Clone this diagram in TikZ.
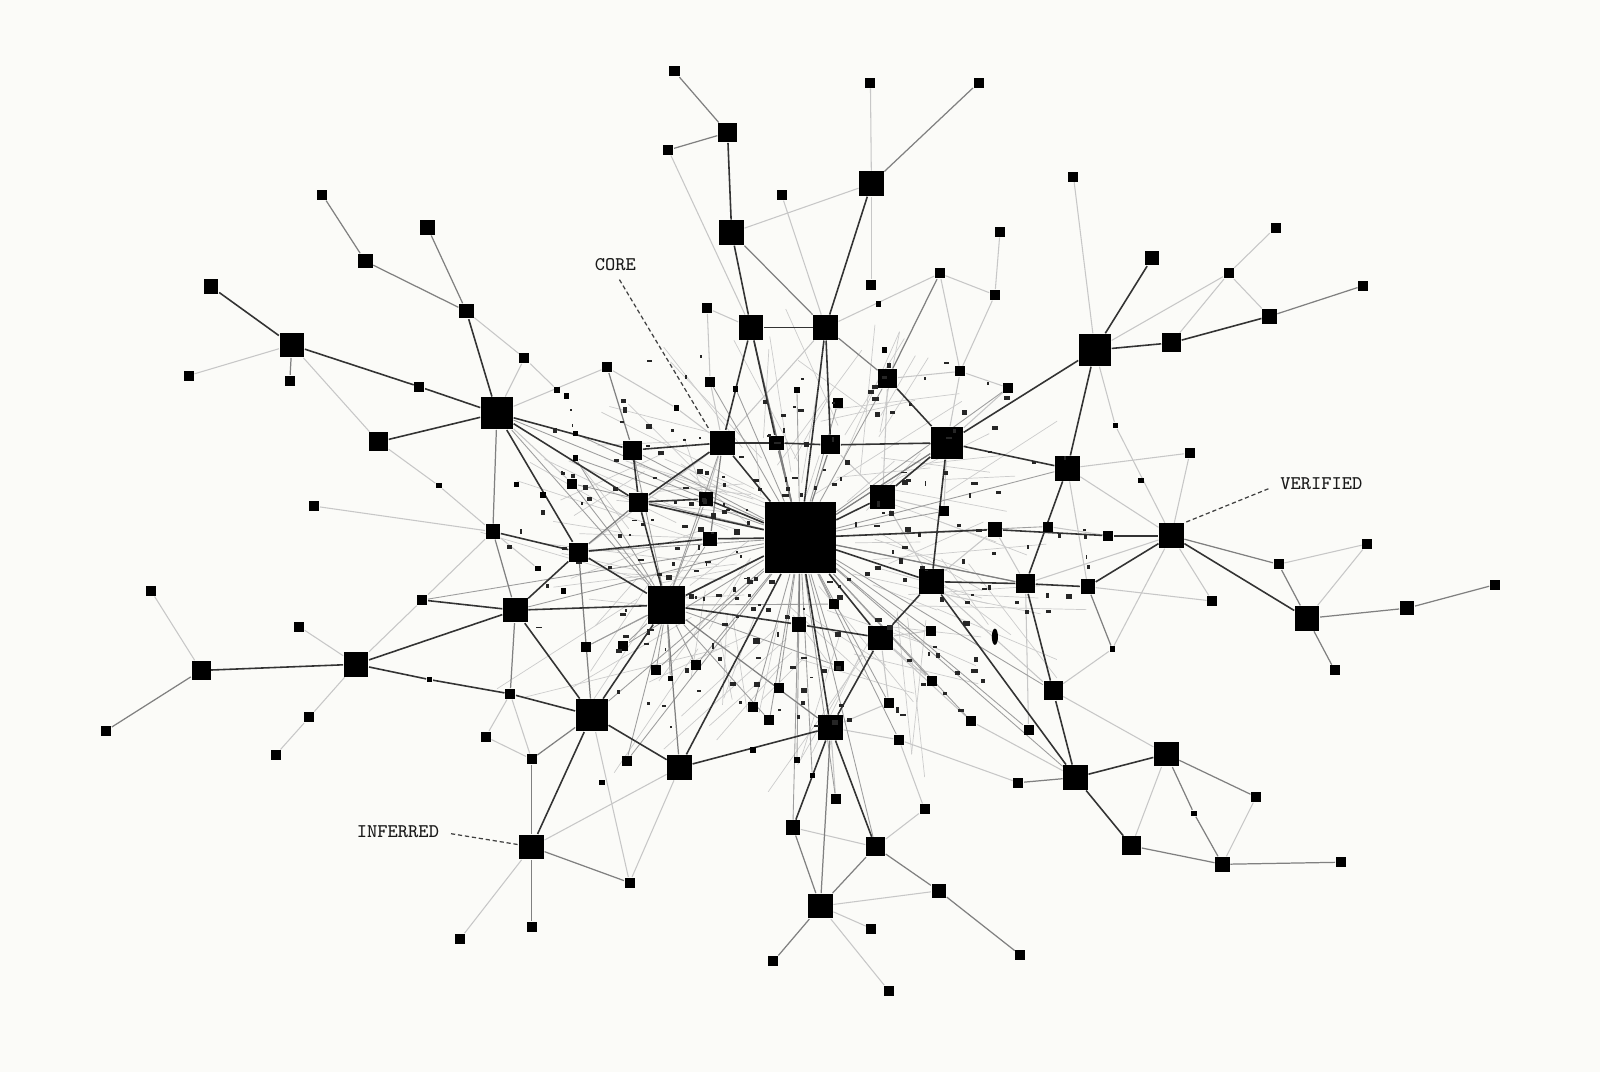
\documentclass[tikz,border=0pt]{standalone}
\usepackage{fontspec}
\usepackage{tikz}
\pgfdeclarelayer{paper}
\pgfdeclarelayer{edges}
\pgfsetlayers{paper,edges,main}
\definecolor{paperwhite}{RGB}{251,251,248}
\tikzset{
  sqbase/.style={rectangle, fill=black, inner sep=0pt},
  dotsq/.style={sqbase, minimum size=0.55mm},
  sq/.style={sqbase, minimum size=1.0mm},
  msq/.style={sqbase, minimum size=1.45mm},
  mdsq/.style={sqbase, minimum size=1.9mm},
  bsq/.style={sqbase, minimum size=2.45mm},
  lsq/.style={sqbase, minimum size=3.2mm},
  hubsq/.style={sqbase, minimum size=7.1mm},
  strong/.style={line width=0.45pt, black!80},
  mid/.style={line width=0.35pt, black!50},
  weak/.style={line width=0.3pt, black!22},
  spoke/.style={line width=0.25pt, black!38},
  web/.style={line width=0.2pt, black!20},
  lbl/.style={font=\fontsize{5.5}{6}\selectfont\ttfamily, text=black!90, inner sep=1pt},
  leader/.style={line width=0.35pt, black!75, dash pattern=on 1.2pt off 0.8pt}
}

\begin{document}
\begin{tikzpicture}[x=0.10204mm, y=-0.10204mm]
        % 纸面背景
        \begin{pgfonlayer}{paper}
        \fill[paperwhite] (0,0) rectangle (1568,1051);
        \end{pgfonlayer}

        % 中心节点
        \node[hubsq] (hub) at (784,527) {};

        % 大方块
        \foreach \n/\x/\y in {n26/1073/343, n34/928/434, n41/487/405, n96/580/701}
          \node[lsq] (\n) at (\x,\y) {};
        \node[lsq, minimum size=3.75mm] (n60) at (653,593) {};

        % 中等方块
        \foreach \n/\x/\y in {n6/854/180, n7/717/228, n9/736/321, n10/809/321, n30/1148/525,
            n37/708/434, n61/913/570, n68/863/625, n91/814/713, n80/1054/762, n46/286/338,
            n27/1046/459, n102/349/651, n64/505/598, n95/666/752, n110/521/830, n117/804/888,
            n73/1281/606, n79/1143/739, n53/865/487}
          \node[bsq] (\n) at (\x,\y) {};
        \foreach \n/\x/\y in {n2/713/130, n16/870/371, n25/1148/336, n35/814/436, n38/620/441,
            n51/371/433, n52/626/492, n58/567/541, n62/1005/572, n78/1032/677, n82/1109/829,
            n105/197/657, n115/858/830}
          \node[mdsq] (\n) at (\x,\y) {};
        \foreach \n/\x/\y in {n20/1129/253, n24/1244/310, n33/975/519, n36/761/434, n42/457/305,
            n43/419/223, n44/358/256, n47/207/281, n54/692/489, n56/483/521, n59/696/528,
            n63/1066/575, n67/783/612, n74/1379/596, n83/1198/847, n114/777/811, n118/920/873}
          \node[msq] (\n) at (\x,\y) {};

        % 小方块
        \foreach \n/\x/\y in {n1/661/70, n3/655/147, n4/853/81, n5/959/81, n8/766/191,
            n11/693/302, n12/854/279, n13/921/268, n14/980/227, n15/975/289, n17/941/364,
            n18/988/380, n19/1052/173, n21/1250/223, n22/1204/268, n23/1336/280, n28/1166/444,
            n31/1086/525, n32/1027/516, n39/595/360, n40/514/351, n45/316/191, n48/185/368,
            n49/284/373, n50/411/379, n57/308/496, n65/414/588, n69/912/618, n70/1253/553,
            n71/1340/533, n72/1188/589, n75/1465/573, n76/1308/657, n81/1231/781, n84/1314/845,
            n86/998/767, n87/1008/715, n88/952/707, n89/881/725, n90/871/689, n92/822/653,
            n93/738/693, n94/763/674, n97/500/680, n98/476/722, n99/521/744, n100/574/634,
            n101/614/746, n103/293/614, n104/148/579, n106/104/716, n107/303/703, n108/270/740,
            n111/617/865, n112/521/908, n113/451/920, n116/906/793, n119/854/910, n120/758/942,
            n121/871/971, n122/1000/936, n125/696/374, n126/817/592, n127/611/633, n128/643/657,
            n129/682/652, n131/913/667, n132/754/706, n135/819/783, n142/561/474, n148/821/395,
            n150/925/501}
          \node[sq] (\n) at (\x,\y) {};
        \foreach \n/\x/\y in {n29/1093/417, n66/430/476, n77/1090/636, n85/1170/797,
            n109/421/666, n123/796/760, n130/657/665, n133/781/745, n134/738/735, n136/527/557,
            n137/552/579, n138/546/382, n139/555/388, n140/506/475, n141/532/485, n143/564/425,
            n144/564/449, n145/663/400, n146/721/381, n147/781/382, n149/867/343, n152/1118/471,
            n153/861/298, n154/590/767}
          \node[dotsq] (\n) at (\x,\y) {};

        % 连线
        \begin{pgfonlayer}{edges}
        \pgfmathsetseed{7}
        \foreach \i in {1,...,120}{
          \pgfmathsetmacro{\ang}{360*rnd}
          \pgfmathsetmacro{\ra}{40+110*rnd}
          \pgfmathsetmacro{\rb}{\ra+40+120*rnd}
          \pgfmathsetmacro{\angb}{\ang+60*rnd-30}
          \draw[web] ({784+1.2*\ra*cos(\ang)},{527+0.9*\ra*sin(\ang)})
            -- ({784+1.2*\rb*cos(\angb)},{527+0.9*\rb*sin(\angb)});
        }
        \foreach \a/\b in {n4/n6, n7/n6, n8/n10, n3/n9, n11/n9, n11/n125, n125/n37, n12/n6,
            n10/n13, n14/n15, n13/n15, n15/n17, n17/n16, n17/n34, n18/n34, n17/n18, n19/n26,
            n22/n25, n22/n24, n26/n22, n26/n29, n29/n30, n27/n28, n28/n30, n27/n30, n27/n63,
            n32/n31, n30/n72, n30/n62, n63/n72, n70/n71, n71/n73, n30/n77, n77/n78, n78/n79,
            n79/n82, n81/n83, n61/n78, n68/n69, n68/n88, n68/n90, n91/n90, n91/n89, n89/n116,
            n115/n116, n114/n115, n117/n121, n117/n119, n117/n118, n62/n87, n48/n46, n46/n51,
            n51/n66, n66/n56, n57/n56, n42/n40, n41/n40, n39/n41, n39/n145, n145/n37, n41/n142,
            n104/n105, n103/n102, n102/n107, n107/n108, n65/n102, n65/n56, n97/n98, n97/n99,
            n98/n99, n110/n113, n110/n95, n96/n111, n35/n53, n53/n61, n53/n150, n150/n34,
            n16/n53, n37/n54, n37/n58, n10/n37, n62/n33, n86/n89, n61/n33, n68/n131, n80/n88,
            n22/n21, n13/n17, n40/n138, n56/n136, n95/n111, n91/n135}
          \draw[weak] (\a) -- (\b);
        \foreach \b in {n38, n41, n58, n96, n64, n100, n101, n127, n129, n126, n92, n94, n93,
            n132, n114, n115, n69, n131, n90, n62, n78, n80, n150, n16, n34, n27, n32, n18,
            n36, n9, n125, n142, n143, n144, n65, n88, n87, n148, n147, n146, n128, n135, n89,
            n123, n133}
          \draw[spoke] (hub) -- (\b);
        \foreach \b in {n38, n37, n54, n142, n100, n127, n128, n129, n130, n101, n126, n92,
            n41, n144, n59, n132}
          \draw[spoke] (n60) -- (\b);
        \foreach \a/\b in {n1/n2, n3/n2, n5/n6, n7/n10, n45/n44, n44/n42, n43/n42, n46/n49,
            n56/n41, n56/n64, n64/n97, n105/n106, n110/n112, n110/n111, n99/n110, n99/n96,
            n60/n95, n58/n96, n58/n52, n91/n117, n114/n117, n115/n117, n115/n118, n118/n122,
            n117/n120, n30/n70, n70/n73, n73/n74, n74/n75, n73/n76, n24/n23, n79/n81, n79/n85,
            n85/n83, n82/n83, n83/n84, n80/n86, n13/n16, n10/n16, n63/n77, n39/n38, n60/n91,
            n34/hub, n9/hub, n35/hub, n36/hub, n67/hub, n62/hub, n37/n59}
          \draw[mid] (\a) -- (\b);
        \foreach \a/\b in {n2/n7, n6/n10, n7/n9, n9/n10, n9/n37, n9/n36, n10/n35, n10/hub,
            n16/n34, n26/n34, n20/n26, n26/n25, n25/n24, n26/n27, n27/n34, n27/n62, n34/n35,
            n35/n36, n36/n37, n37/n38, n34/n53, n34/n61, n37/n52, n37/hub, n38/n41, n38/n52,
            n41/n42, n41/n50, n50/n46, n46/n47, n41/n51, n41/n52, n41/n58, n52/n54, n52/n60,
            n52/hub, n54/hub, n53/hub, n56/n58, n58/n59, n59/hub, n58/n60, n60/hub, n60/n64,
            n64/n65, n64/n58, n64/n96, n64/n102, n102/n105, n102/n109, n109/n97, n97/n96,
            n96/n60, n96/n95, n96/n110, n95/n91, n95/hub, n91/hub, n91/n68, n68/hub, n61/hub,
            n61/n68, n61/n62, n62/n63, n63/n30, n62/n78, n78/n80, n80/n79, n80/n82, n61/n80,
            hub/n33, n33/n31, n31/n30, n91/n114, n91/n115, n60/n67, n67/n68, n30/n73}
          \draw[strong] (\a) -- (\b);
        \end{pgfonlayer}

        % 中心附近的碎点
        \foreach \i in {1,...,230}{
          \pgfmathsetmacro{\ang}{360*rnd}
          \pgfmathsetmacro{\rad}{45+185*rnd}
          \pgfmathsetmacro{\px}{784+1.25*\rad*cos(\ang)}
          \pgfmathsetmacro{\py}{527+0.9*\rad*sin(\ang)}
          \pgfmathsetmacro{\w}{1.5+5*rnd}
          \pgfmathsetmacro{\h}{1.5+4*rnd}
          \fill[black!85] (\px,\py) rectangle ++(\w,\h);
        }
        \fill[black] (975,624) ellipse (3 and 8);

        % 标注
        \node[lbl] (core) at (603,259) {CORE};
        \node[lbl] (verified) at (1295,474) {VERIFIED};
        \node[lbl] (inferred) at (390,815) {INFERRED};
        \coordinate (corefoot) at (607,274);
        \coordinate (verfoot) at (1243,479);
        \coordinate (inffoot) at (442,817);
        \draw[leader] (corefoot) -- (n37.north west);
        \draw[leader] (verfoot) -- (n30.north east);
        \draw[leader] (inffoot) -- (n110.170);
\end{tikzpicture}
\end{document}
